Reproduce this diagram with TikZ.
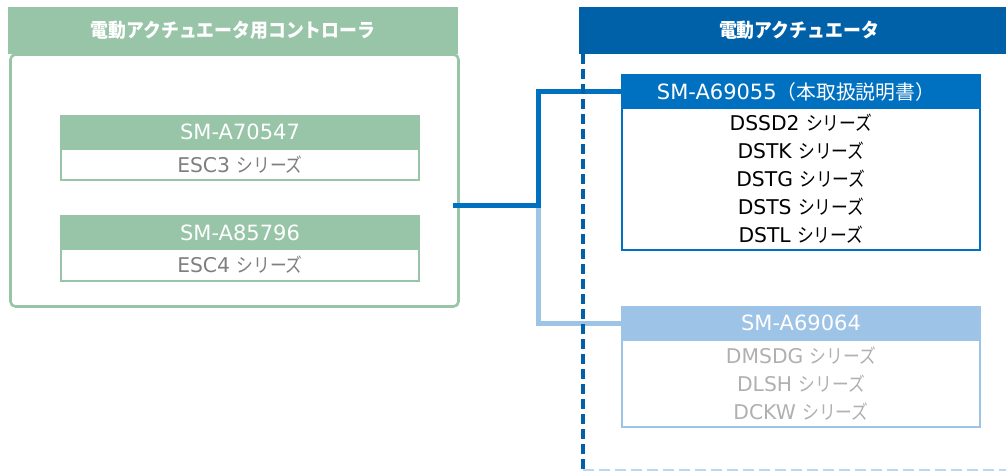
\documentclass[tikz,border=0pt]{standalone}
\usepackage{fontspec}
\setmainfont{DejaVu Sans}
\newfontfamily\cjkfont{Noto Sans CJK JP}
\newcommand{\J}[2][19.5]{\scalebox{0.86}[1]{\cjkfont\fontsize{#1}{28}\selectfont #2}}
\newcommand{\Hd}[1]{\scalebox{0.92}[1]{\cjkfont\bfseries\fontsize{19.4}{22}\selectfont #1}}
\definecolor{grn}{HTML}{98C4A8}
\definecolor{dblue}{HTML}{0060A8}
\definecolor{mblue}{HTML}{0070C0}
\definecolor{lblue}{HTML}{9DC3E6}
\definecolor{lblue2}{HTML}{BDD7EE}
\definecolor{gtext}{HTML}{7F7F7F}
\definecolor{ltext}{HTML}{B0B0B0}
\tikzset{
  panelhead/.style={fill=#1, draw=none, text=white, inner sep=0pt},
  boxhead/.style={fill=#1, draw=#1, line width=2pt, text=white, inner sep=0pt, minimum width=358pt, font=\fontsize{21}{22}\selectfont},
  boxbody/.style={fill=white, draw=#1, line width=2pt, inner sep=0pt, minimum width=358pt, align=center, font=\fontsize{20.3}{28}\selectfont},
  conn/.style={line width=5pt, #1, line join=miter},
}
\begin{document}
\begin{tikzpicture}[x=1pt,y=-1pt]
\useasboundingbox (0,0) rectangle (1006,471);
% left panel
\node[draw=grn, line width=2.6pt, rounded corners=5pt, minimum width=448pt, minimum height=252pt, inner sep=0pt] (lbody) at (234.5,180.5) {};
\node[panelhead=grn, minimum width=450pt, minimum height=47pt] (lhead) at (233,30.5) {\Hd{電動アクチュエータ用コントローラ}};
\node[boxhead=grn, minimum height=33pt] (aHead) at (240,132) {SM-A70547};
\node[boxbody=grn, minimum height=31pt, text=gtext] (aBody) at (240,164.5) {ESC3 \J{シリーズ}};
\node[boxhead=grn, minimum height=33pt] (bHead) at (240,232.5) {SM-A85796};
\node[boxbody=grn, minimum height=32pt, text=gtext] (bBody) at (240,265) {ESC4 \J{シリーズ}};
% right panel
\node[panelhead=dblue, minimum width=440pt, minimum height=47pt] (rhead) at (799,30.5) {\Hd{電動アクチュエータ}};
\node[boxhead=mblue, minimum height=33pt] (cHead) at (801,91.5) {SM-A69055{\cjkfont\fontsize{19.8}{22}\selectfont （本取扱説明書）}\hspace*{10pt}};
\node[boxbody=mblue, minimum height=142pt, text=black] (cBody) at (801,179) {DSSD2 \J{シリーズ}\\DSTK \J{シリーズ}\\DSTG \J{シリーズ}\\DSTS \J{シリーズ}\\DSTL \J{シリーズ}};
\node[boxhead=lblue, minimum height=33pt] (dHead) at (801,323) {SM-A69064};
\node[boxbody=lblue, minimum height=87pt, text=ltext] (dBody) at (801,383.5) {DMSDG \J{シリーズ}\\DLSH \J{シリーズ}\\DCKW \J{シリーズ}};
% connectors
\coordinate (src) at (453,205);
\coordinate (j) at (538,205);
\draw[conn=lblue] (j) |- (dHead.west);
\draw[conn=mblue] (src) -- (j) |- (cHead.west);
% dashed borders
\coordinate (rtop) at (583,54);
\coordinate (rbot) at (583,470);
\coordinate (rend) at (1010,470);
\draw[lblue2, line width=1.8pt, dash pattern=on 11pt off 5pt] (rbot) -- (rend);
\draw[dblue, line width=3.5pt, dash pattern=on 10pt off 5pt] (rtop) -- (rbot);
\end{tikzpicture}
\end{document}
